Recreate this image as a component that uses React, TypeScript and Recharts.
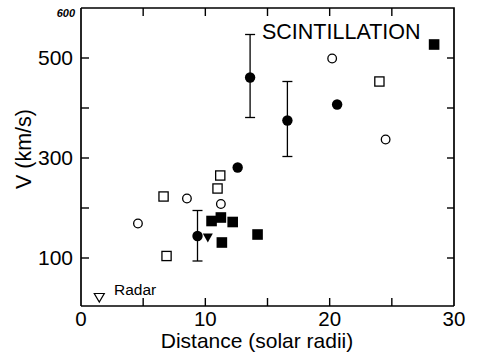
import { ScatterChart, Scatter, XAxis, YAxis, ErrorBar } from 'recharts';

// values (distance in solar radii, V in km/s)
const filledCirclesErr = [
  { x: 13.6, y: 461, err: [80, 86] },
  { x: 16.6, y: 375, err: [72, 78] },
  { x: 9.37, y: 144, err: [50, 51] },
];
const filledCircles = [
  { x: 20.6, y: 407 },
  { x: 12.6, y: 281 },
];
const openCircles = [
  { x: 20.2, y: 499 },
  { x: 24.5, y: 337 },
  { x: 4.58, y: 169 },
  { x: 8.52, y: 219 },
  { x: 11.25, y: 208 },
];
const openSquares = [
  { x: 24.0, y: 453 },
  { x: 11.2, y: 265 },
  { x: 10.98, y: 239 },
  { x: 6.64, y: 223 },
  { x: 6.88, y: 104 },
];
const filledSquares = [
  { x: 28.4, y: 527 },
  { x: 10.5, y: 174 },
  { x: 11.25, y: 181 },
  { x: 12.2, y: 172 },
  { x: 11.33, y: 131 },
  { x: 14.2, y: 147 },
];
const filledTriangles = [{ x: 10.2, y: 141 }];
const radar = [{ x: 1.47, y: 21 }];

const X_DOMAIN = [0, 30];
const Y_DOMAIN = [4, 600];
const xTicks = [0, 5, 10, 15, 20, 25, 30];
const xLabels = [0, 10, 20, 30];
const yTicks = [100, 200, 300, 400, 500, 600];
const yLabels = [100, 300, 500];

const W = 477;
const H = 361;
const MARGIN = { top: 8, right: 23, bottom: 0, left: 0 };
const Y_AXIS_W = 81;
const X_AXIS_H = 55;
const PLOT_L = MARGIN.left + Y_AXIS_W;
const PLOT_T = MARGIN.top;
const PLOT_W = W - MARGIN.left - MARGIN.right - Y_AXIS_W;
const PLOT_H = H - MARGIN.top - MARGIN.bottom - X_AXIS_H;
const PLOT_R = PLOT_L + PLOT_W;
const fx = (v: number) => PLOT_L + ((v - X_DOMAIN[0]) / (X_DOMAIN[1] - X_DOMAIN[0])) * PLOT_W;
const fy = (v: number) => PLOT_T + ((Y_DOMAIN[1] - v) / (Y_DOMAIN[1] - Y_DOMAIN[0])) * PLOT_H;

const FONT = '"Liberation Sans", Arial, Helvetica, sans-serif';
const INK = '#000';
const axisLine = { stroke: INK, strokeWidth: 1.7 };

const BottomTick = ({ x, y, payload }: any) => {
  const v = payload.value;
  return (
    <g>
      {v !== 0 && v !== 30 && <line x1={x} x2={x} y1={y} y2={y - 8} stroke={INK} strokeWidth={1.4} />}
      {xLabels.includes(v) && (
        <text x={x} y={y + 20} textAnchor="middle" fontFamily={FONT} fontSize={20.5} fill={INK}>
          {v}
        </text>
      )}
    </g>
  );
};

const LeftTick = ({ x, y, payload }: any) => {
  if (payload.value === 600) {
    return (
      <text x={x - 6} y={y + 9} textAnchor="end" fontFamily={FONT} fontSize={11}
        fontWeight="bold" fontStyle="italic" fill={INK}>600</text>
    );
  }
  return (
    <g>
      <line x1={x} x2={x + 8} y1={y} y2={y} stroke={INK} strokeWidth={1.4} />
      {yLabels.includes(payload.value) && (
        <text x={x - 8} y={y + 7} textAnchor="end" fontFamily={FONT} fontSize={21} fill={INK}>
          {payload.value}
        </text>
      )}
    </g>
  );
};

const FilledCircle = ({ cx, cy }: any) => <circle cx={cx} cy={cy} r={5.2} fill={INK} />;
const OpenCircle = ({ cx, cy }: any) => (
  <circle cx={cx} cy={cy} r={4.3} fill="#fff" stroke={INK} strokeWidth={1.3} />
);
const OpenSquare = ({ cx, cy }: any) => (
  <rect x={cx - 4.6} y={cy - 4.6} width={9.2} height={9.2} fill="#fff" stroke={INK} strokeWidth={1.3} />
);
const FilledSquare = ({ cx, cy }: any) => (
  <rect x={cx - 5.3} y={cy - 5.3} width={10.6} height={10.6} fill={INK} />
);
const FilledTriangle = ({ cx, cy }: any) => (
  <polygon points={`${cx - 5},${cy - 4} ${cx + 5},${cy - 4} ${cx},${cy + 5}`} fill={INK} />
);
const OpenTriangle = ({ cx, cy }: any) => (
  <polygon points={`${cx - 5},${cy - 4} ${cx + 5},${cy - 4} ${cx},${cy + 4.5}`}
    fill="#fff" stroke={INK} strokeWidth={1.2} />
);

export default function App() {
  return (
    <div style={{ position: 'absolute', left: 0, top: 0, width: W, height: H, background: '#fff' }}>
      <ScatterChart width={W} height={H} margin={MARGIN}>
        <XAxis
          dataKey="x" type="number" domain={X_DOMAIN} ticks={xTicks} allowDataOverflow
          height={X_AXIS_H} tickSize={0} tickMargin={0} tickLine={false}
          axisLine={axisLine} tick={<BottomTick />} interval={0}
        />
        <YAxis
          dataKey="y" type="number" domain={Y_DOMAIN} ticks={yTicks} allowDataOverflow
          width={Y_AXIS_W} tickSize={0} tickMargin={0} tickLine={false}
          axisLine={axisLine} tick={<LeftTick />} interval={0}
        />
        <Scatter data={filledCirclesErr} shape={<FilledCircle />} isAnimationActive={false}>
          <ErrorBar dataKey="err" direction="y" width={5} stroke={INK} strokeWidth={1.3} isAnimationActive={false} />
        </Scatter>
        <Scatter data={filledCircles} shape={<FilledCircle />} isAnimationActive={false} />
        <Scatter data={openCircles} shape={<OpenCircle />} isAnimationActive={false} />
        <Scatter data={openSquares} shape={<OpenSquare />} isAnimationActive={false} />
        <Scatter data={filledSquares} shape={<FilledSquare />} isAnimationActive={false} />
        <Scatter data={filledTriangles} shape={<FilledTriangle />} isAnimationActive={false} />
        <Scatter data={radar} shape={<OpenTriangle />} isAnimationActive={false} />
      </ScatterChart>
      <svg width={W} height={H} style={{ position: 'absolute', left: 0, top: 0, pointerEvents: 'none' }}>
        {/* closing top/right edges of the frame with inward mirror ticks */}
        <path d={`M${PLOT_L},${PLOT_T} H${PLOT_R} V${PLOT_T + PLOT_H}`} fill="none" stroke={INK} strokeWidth={1.7} />
        {xTicks.slice(1, -1).map((t) => (
          <line key={`tx${t}`} x1={fx(t)} x2={fx(t)} y1={PLOT_T} y2={PLOT_T + 8} stroke={INK} strokeWidth={1.4} />
        ))}
        {yTicks.slice(0, -1).map((t) => (
          <line key={`ty${t}`} x1={PLOT_R} x2={PLOT_R - 7} y1={fy(t)} y2={fy(t)} stroke={INK} strokeWidth={1.4} />
        ))}
        <text x={262} y={38.5} fontFamily={FONT} fontSize={21.5} fill={INK}>SCINTILLATION</text>
        <text x={114} y={294.5} fontFamily={FONT} fontSize={15.5} fill={INK}>Radar</text>
        <text x={257} y={348} textAnchor="middle" fontFamily={FONT} fontSize={21} fill={INK}>
          Distance (solar radii)
        </text>
        <text x={31} y={149} textAnchor="middle" transform="rotate(-90 31 149)"
          fontFamily={FONT} fontSize={21.5} fill={INK}>V (km/s)</text>
      </svg>
    </div>
  );
}
